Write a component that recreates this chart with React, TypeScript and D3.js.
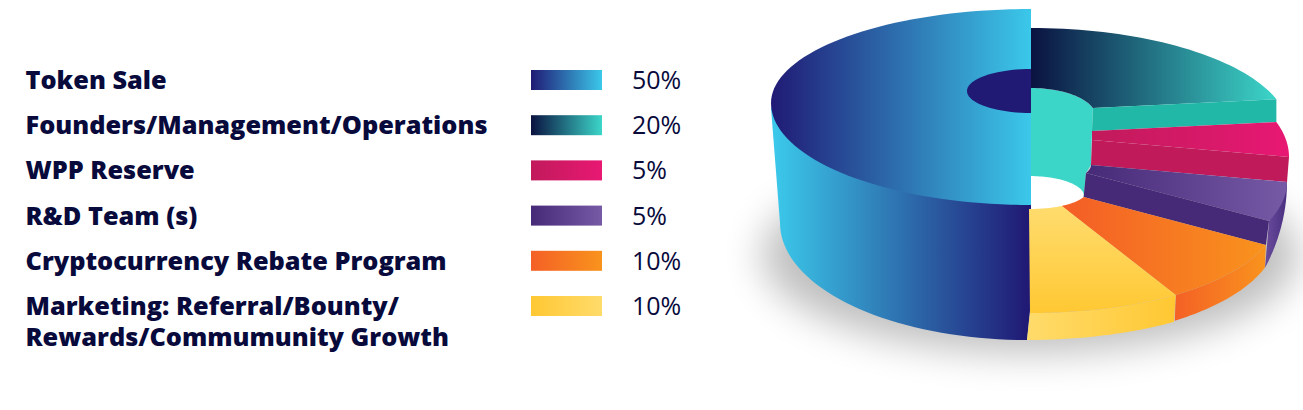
import React from "react";
import * as d3 from "d3";

const categories = ["Token Sale", "Founders/Management/Operations", "WPP Reserve", "R&D Team (s)", "Cryptocurrency Rebate Program", "Marketing: Referral/Bounty/"];
const extraLine = "Rewards/Commumunity Growth";
const shares = [50, 20, 5, 5, 10, 10];

type E = { cx: number; cy: number; rx: number; ry: number };
const e = (cx: number, cy: number, rx: number, ry: number): E => ({ cx, cy, rx, ry });
const pt = (g: E, a: number): [number, number] => [g.cx + g.rx * Math.sin(a), g.cy - g.ry * Math.cos(a)];
const arcPts = (g: E, a0: number, a1: number) => d3.range(41).map((i) => pt(g, a0 + ((a1 - a0) * i) / 40));
const line = d3.line();
const path = (...parts: [number, number][][]) => line(parts.flat()) + "Z";

const slices = d3.pie<number>().sort(null).startAngle(Math.PI).endAngle(3 * Math.PI)(shares);
const TAU = 2 * Math.PI;
const [, tealS, pinkS, purpleS, orangeS, yellowS] = slices;

const blueUpper = e(1031, 103, 260, 94);
const blueLower = e(1031, 103, 260, 102);
const blueBase = e(1027, 223, 247, 117);
const blueHole = e(1031, 91, 64, 22);
const teal = e(1031, 131, 258, 103);
const tealIn = e(1031, 117, 65, 29);
const pink = e(1031, 157, 258, 113);
const pinkIn = e(1092, 140, 0, 29);
const purple = e(920, 182, 367, 126);
const purpleIn = e(989, 165, 102, 26);
const purpleBase = e(838, 182, 449, 278);
const orange = e(1030, 214, 248, 100);
const orangeIn = e(1026, 191.4, 60.6, 18);
const orangeBase = e(1029, 235, 248, 106);
const yellow = e(1030, 219, 248, 94);
const yellowIn = e(1029, 193, 56, 16);
const yellowBase = e(1027, 245, 250, 95);
const wallFoot = e(1029, 196, 55, 20);

const t0 = tealS.startAngle - TAU, t1 = tealS.endAngle - TAU;
const p1 = pinkS.endAngle - TAU;
const v1 = purpleS.endAngle - TAU;
const o1 = orangeS.endAngle - TAU;
const y1 = yellowS.endAngle - TAU;
const quarter = Math.PI / 2;

const colors = {
  navy: "#201a75", sky: "#3bc8ea", ink: "#0a1240", aqua: "#3cd6c9", tealWall: "#22b8a8",
  pinkD: "#c11a5b", pinkL: "#e81873", vioD: "#462a78", vioL: "#765aa6",
  oraD: "#f46026", oraL: "#f9931d", yelL: "#ffdb6b", yelD: "#ffc833", text: "#080a3c",
};

const swatches = [
  [colors.navy, colors.sky], [colors.ink, colors.aqua], [colors.pinkD, colors.pinkL],
  [colors.vioD, colors.vioL], [colors.oraD, colors.oraL], [colors.yelD, colors.yelL],
];

const Grad = ({ id, x1, x2, a, b, y }: any) => (
  <linearGradient id={id} gradientUnits="userSpaceOnUse" x1={y ? 0 : x1} x2={y ? 0 : x2} y1={y ? x1 : 0} y2={y ? x2 : 0}>
    <stop offset="0" stopColor={a} />
    <stop offset="1" stopColor={b} />
  </linearGradient>
);

const rowY = d3.scaleLinear().domain([0, 5]).range([80, 306]);
const font = "'Open Sans', sans-serif";

export default function App() {
  return (
    <svg width={1303} height={410} style={{ position: "fixed", left: 0, top: 0, background: "#fff" }}>
      <defs>
        <filter id="blur" x="-30%" y="-50%" width="160%" height="200%"><feGaussianBlur stdDeviation="19" /></filter>
        <Grad id="fBlue" x1={771} x2={1031} a={colors.navy} b={colors.sky} />
        <Grad id="sBlue" x1={775} x2={1027} a={colors.sky} b={colors.navy} />
        <Grad id="fTeal" x1={1031} x2={1276} a={colors.ink} b={colors.aqua} />
        <Grad id="fPink" x1={1092} x2={1289} a={colors.pinkD} b={colors.pinkL} />
        <Grad id="fVio" x1={1086} x2={1287} a={colors.vioD} b={colors.vioL} />
        <Grad id="sVio" x1={1265} x2={1287} a="#6a4c9c" b="#4a2f80" />
        <Grad id="fOra" x1={1075} x2={1266} a={colors.oraD} b={colors.oraL} />
        <Grad id="sOra" x1={1174} x2={1265} a={colors.oraD} b={colors.oraL} />
        <Grad id="fYel" y x1={212} x2={313} a={colors.yelL} b={colors.yelD} />
        <Grad id="sYel" x1={1027} x2={1174} a={colors.yelL} b={colors.yelD} />
        {swatches.map(([a, b], i) => <Grad key={i} id={`leg${i}`} x1={531} x2={602} a={a} b={b} />)}
      </defs>

      {categories.map((c, i) => (
        <g key={c}>
          <text x={25.5} y={rowY(i) + 9} fontFamily={font} fontWeight={800} fontSize={25.3} fill={colors.text}>{c}</text>
          <rect x={531} y={rowY(i) - 10} width={71} height={20} fill={`url(#leg${i})`} />
          <text x={632} y={rowY(i) + 9} fontFamily={font} fontSize={25} fill={colors.text}>{shares[i]}%</text>
        </g>
      ))}
      <text x={25.5} y={rowY(5) + 40} fontFamily={font} fontWeight={800} fontSize={25.3} fill={colors.text}>{extraLine}</text>

      <ellipse cx={1030} cy={255} rx={268} ry={98} fill="#000" opacity={0.25} filter="url(#blur)" />
      <ellipse cx={wallFoot.cx} cy={wallFoot.cy} rx={56} ry={21} fill="#fff" />

      {/* Token Sale side */}
      <path fill="url(#sBlue)" d={path(arcPts(blueBase, Math.PI, 1.5 * Math.PI), [[771, 108], [1031, 120], [1031, 300]])} />

      {/* Inner wall */}
      <path fill={colors.aqua} d={path(arcPts(tealIn, t0, t1), [pt(pinkIn, t1), pt(purpleIn, p1), pt(purpleIn, v1), pt(orangeIn, v1), pt(wallFoot, quarter)], arcPts(wallFoot, quarter, 0))} />

      {/* Founders */}
      <path fill="url(#fTeal)" d={path(arcPts(teal, t0, t1), arcPts(tealIn, t1, t0))} />
      <path fill={colors.tealWall} d={path([pt(teal, t1), pt(pink, t1), pt(pinkIn, t1), pt(tealIn, t1)])} />

      {/* WPP Reserve */}
      <path fill="url(#fPink)" d={path(arcPts(pink, t1, p1), arcPts(pinkIn, p1, t1))} />
      <path fill={colors.pinkD} d={path([pt(pink, p1), pt(purple, p1), pt(purpleIn, p1), pt(pinkIn, p1)])} />

      {/* R&D Team */}
      <path fill="url(#sVio)" d={path(arcPts(purpleBase, p1, v1), [pt(purple, v1), pt(purple, p1)])} />
      <path fill="url(#fVio)" d={path(arcPts(purple, p1, v1), arcPts(purpleIn, v1, p1))} />
      <path fill={colors.vioD} d={path([pt(purple, v1), pt(orange, v1), pt(orangeIn, v1), pt(purpleIn, v1)])} />

      {/* Rebate Program */}
      <path fill="url(#sOra)" d={path(arcPts(orange, v1, o1), arcPts(orangeBase, o1, v1))} />
      <path fill="url(#fOra)" d={path(arcPts(orange, v1, o1), arcPts(orangeIn, o1, v1))} />

      {/* Marketing */}
      <path fill="url(#sYel)" d={path(arcPts(yellow, o1, y1), arcPts(yellowBase, y1, o1))} />
      <path fill="url(#fYel)" d={path(arcPts(yellow, o1, y1), arcPts(yellowIn, y1, o1))} />

      {/* Token Sale top */}
      <path fill="url(#fBlue)" d={path(arcPts(blueLower, Math.PI, 1.5 * Math.PI), arcPts(blueUpper, 1.5 * Math.PI, TAU))} />
      <path fill={colors.navy} d={path(arcPts(blueHole, Math.PI, TAU))} />
    </svg>
  );
}
